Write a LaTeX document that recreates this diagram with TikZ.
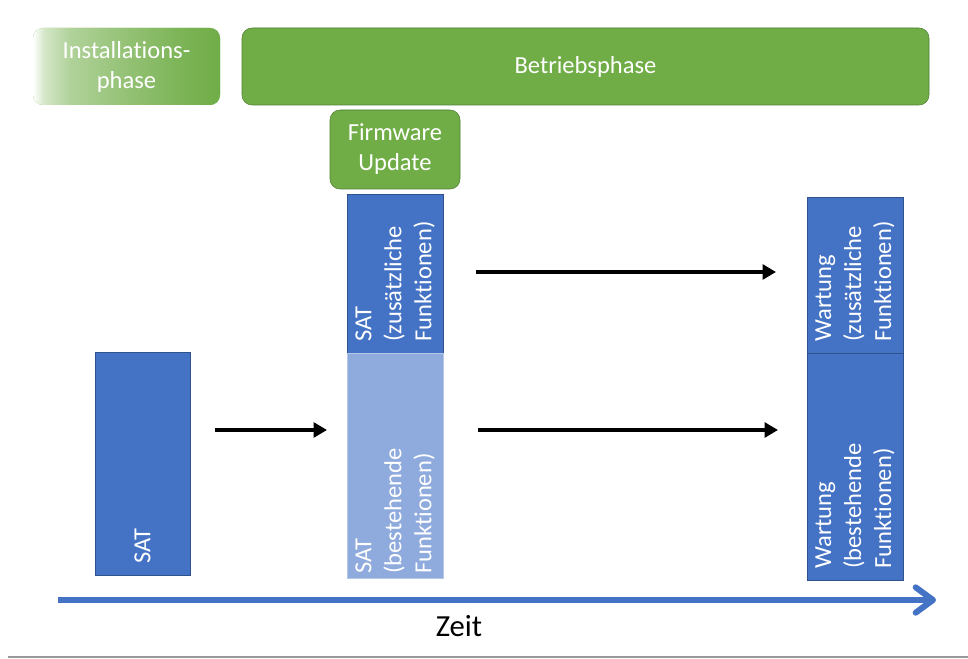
\documentclass[tikz,border=0pt]{standalone}
\usepackage{fontspec}
\setmainfont{Carlito}[Ligatures=NoCommon]
\usetikzlibrary{arrows.meta,positioning,calc}

\definecolor{phgreen}{RGB}{112,173,71}
\definecolor{phgreenborder}{RGB}{80,126,50}
\definecolor{satblue}{RGB}{68,114,196}
\definecolor{satborder}{RGB}{47,82,143}
\definecolor{satlight}{RGB}{143,170,220}
\definecolor{satlightborder}{RGB}{180,199,231}

\pgfdeclarehorizontalshading{instshade}{100bp}{color(0bp)=(white); color(25bp)=(white); color(28bp)=(phgreen!30); color(35bp)=(phgreen!55); color(50bp)=(phgreen!75); color(65bp)=(phgreen!92); color(75bp)=(phgreen); color(100bp)=(phgreen)}

\newcommand{\boxfont}{\fontsize{18.4}{22.5}\selectfont}

\tikzset{
  phase/.style={draw=phgreenborder, fill=phgreen, rounded corners=7.5pt, text=white,
    align=center, inner sep=0pt, outer sep=0pt, font=\boxfont},
  satbox/.style={draw=satborder, fill=satblue, inner sep=0pt, outer sep=0pt, minimum width=72pt},
  sattext/.style={rotate=90, anchor=west, text=white, align=left, inner sep=0.75pt, font=\boxfont},
  flow/.style={line width=3pt, -{Triangle[length=10pt,width=11pt]}},
}

\begin{document}
\begin{tikzpicture}[x=0.75pt,y=0.75pt,yscale=-1,xscale=1]
    \useasboundingbox (0,0) rectangle (968,659);

    % phases
    \node [phase, draw=none, shading=instshade, minimum width=140.25pt, minimum height=57.75pt] (install) at (126.5,66.5) {Installations-\\phase};
    \node [phase, minimum width=515.25pt, minimum height=57.75pt] (betrieb) at (585.5,66.5) {Betriebsphase};
    \node [phase, minimum width=97.5pt, minimum height=59.25pt] (firmware) at (395,149.5) {Firmware\\Update};

    % test blocks
    \node [satbox, minimum width=71.25pt, minimum height=167.25pt] (satalt) at (142.5,463.5) {};
    \node [satbox, minimum height=119.25pt] (satneu) at (395,273.5) {};
    \node [satbox, fill=satlight, draw=satlightborder, minimum height=168.75pt, below=0pt of satneu] (satbest) {};
    \node [satbox, minimum height=117pt] (wartneu) at (855,275) {};
    \node [satbox, minimum height=170.25pt, below=0pt of wartneu] (wartbest) {};

    % rotated labels
    \node [sattext] (satalttext) at ($(satalt.south)+(0,-10)$) {SAT};
    \node [sattext] (satneutext) at ($(satneu.south)+(0,-10)$) {SAT\\(zusätzliche\\Funktionen)};
    \node [sattext] (satbesttext) at ($(satbest.south)+(0,-3)$) {SAT\\(bestehende\\Funktionen)};
    \node [sattext] (wartneutext) at ($(wartneu.south)+(0,-10)$) {Wartung\\(zusätzliche\\Funktionen)};
    \node [sattext] (wartbesttext) at ($(wartbest.south)+(0,-10)$) {Wartung\\(bestehende\\Funktionen)};

    % transitions
    \coordinate (f1s) at (215,430);
    \coordinate (f1e) at (327,430);
    \coordinate (f2s) at (476,272);
    \coordinate (f2e) at (776,272);
    \coordinate (f3s) at (478,430);
    \coordinate (f3e) at (778,430);
    \draw [flow] (f1s) -- (f1e);
    \draw [flow] (f2s) -- (f2e);
    \draw [flow] (f3s) -- (f3e);

    % time axis
    \coordinate (t0) at (58,600);
    \coordinate (t1) at (936,600);
    \draw [satblue, line width=4.5pt, -{Straight Barb[length=13pt,width=19pt,round]}] (t0) -- (t1);
    \node [font=\fontsize{23}{27}\selectfont] (zeit) at (459,626) {Zeit};

    % bottom rule
    \coordinate (r0) at (8,657);
    \coordinate (r1) at (968,657);
    \draw [black!40, line width=1.1pt] (r0) -- (r1);
\end{tikzpicture}
\end{document}
